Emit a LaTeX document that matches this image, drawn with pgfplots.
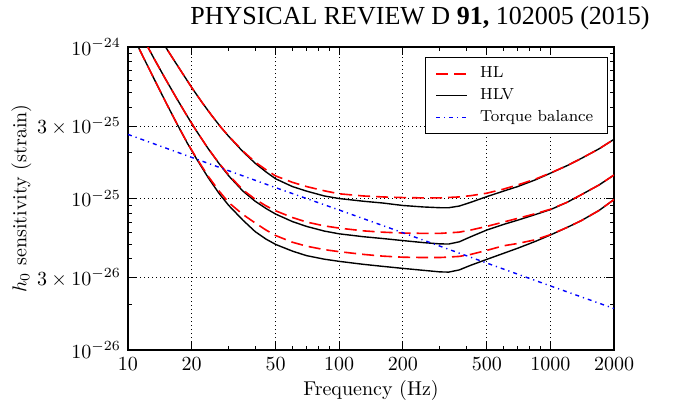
\documentclass[border=0pt]{standalone}
\usepackage{fontspec}
\newfontfamily\headfont{Liberation Serif}
\usepackage{pgfplots}
\pgfplotsset{compat=1.18}
\begin{document}
\begin{tikzpicture}
\begin{axis}[
  at={(0,0)}, anchor=south west,
  xmode=log, ymode=log,
  scale only axis, width=243pt, height=151.5pt,
  xmin=10, xmax=2000, ymin=1e-26, ymax=1e-24,
  xtick={10,20,50,100,200,500,1000,2000},
  xticklabels={10,20,50,100,200,500,1000,2000},
  minor xtick={30,40,60,70,80,90,300,400,600,700,800,900},
  ytick={1e-26,3e-26,1e-25,3e-25,1e-24},
  yticklabels={$10^{-26}$,$3\times10^{-26}$,$10^{-25}$,$3\times10^{-25}$,$10^{-24}$},
  minor ytick={2e-26,4e-26,5e-26,6e-26,7e-26,8e-26,9e-26,2e-25,4e-25,5e-25,6e-25,7e-25,8e-25,9e-25},
  grid=major,
  major grid style={black, line width=0.4pt, dash pattern=on 0.5pt off 1.5pt},
  tick align=inside, major tick length=4pt, minor tick length=2pt,
  every tick/.style={black, line width=0.5pt},
  axis line style={line width=0.8pt},
  xlabel={Frequency (Hz)},
  ylabel={$h_0$ sensitivity (strain)},
  xlabel shift=-2pt,
  ylabel shift=-4pt,
  legend cell align=left,
  legend style={at={(rel axis cs:1,1)}, anchor=north east, xshift=-3pt, yshift=-5pt,
    font=\footnotesize, draw=black, line width=0.7pt, row sep=0pt,
    inner xsep=5pt, inner ysep=2.5pt},
  legend image code/.code={\draw[#1] (0pt,0pt) -- (15.5pt,0pt); \path[draw=none] (15.5pt,0pt) -- (20pt,0pt);},
]
% HLV (black solid)
\addplot[black, line width=0.7pt, forget plot] coordinates {
(14,1.2e-24)(15,1.01e-24)(16.5,8.2e-25)(18,6.8e-25)(20,5.42e-25)(22.5,4.28e-25)(25,3.51e-25)(27.5,2.96e-25)(30,2.57e-25)(35,2.04e-25)(40,1.71e-25)(45,1.5e-25)(50,1.35e-25)(60,1.2e-25)(70,1.12e-25)(85,1.04e-25)(100,1.0e-25)(130,9.6e-26)(160,9.35e-26)(200,9.0e-26)(250,8.8e-26)(300,8.7e-26)(330,8.7e-26)(370,8.92e-26)(420,9.45e-26)(500,1.03e-25)(600,1.12e-25)(700,1.2e-25)(850,1.33e-25)(1000,1.47e-25)(1200,1.65e-25)(1400,1.84e-25)(1700,2.13e-25)(2000,2.46e-25)};
\addplot[black, line width=0.7pt, forget plot] coordinates {
(11,1.36e-24)(12,1.09e-24)(13.5,8.06e-25)(15,6.2e-25)(17,4.58e-25)(19,3.53e-25)(21,2.82e-25)(24,2.13e-25)(27,1.7e-25)(30,1.41e-25)(35,1.12e-25)(40,9.6e-26)(45,8.6e-26)(50,7.9e-26)(60,7.05e-26)(70,6.55e-26)(85,6.1e-26)(100,5.85e-26)(130,5.6e-26)(160,5.45e-26)(200,5.28e-26)(250,5.12e-26)(300,5.02e-26)(330,5.01e-26)(370,5.18e-26)(420,5.6e-26)(500,6.2e-26)(600,6.75e-26)(700,7.2e-26)(850,7.85e-26)(1000,8.45e-26)(1200,9.45e-26)(1400,1.06e-25)(1700,1.23e-25)(2000,1.43e-25)};
\addplot[black, line width=0.7pt, forget plot] coordinates {
(10.4,1.23e-24)(11,1.05e-24)(12,8.2e-25)(13.5,5.9e-25)(15,4.4e-25)(17,3.14e-25)(19,2.35e-25)(21,1.85e-25)(24,1.37e-25)(27,1.08e-25)(30,9.0e-26)(35,7.2e-26)(40,6.05e-26)(45,5.4e-26)(50,4.98e-26)(60,4.5e-26)(70,4.2e-26)(85,3.98e-26)(100,3.85e-26)(130,3.68e-26)(160,3.57e-26)(200,3.46e-26)(250,3.36e-26)(300,3.28e-26)(330,3.27e-26)(370,3.38e-26)(420,3.63e-26)(500,3.97e-26)(600,4.35e-26)(700,4.7e-26)(850,5.22e-26)(1000,5.75e-26)(1200,6.45e-26)(1400,7.15e-26)(1700,8.35e-26)(2000,9.85e-26)};
% HL (red dashed)
\addplot[red, line width=0.8pt, dash pattern=on 6pt off 3pt] coordinates {
(14,1.2e-24)(15,1.01e-24)(16.5,8.2e-25)(18,6.8e-25)(20,5.42e-25)(22.5,4.28e-25)(25,3.51e-25)(27.5,2.96e-25)(30,2.58e-25)(35,2.06e-25)(40,1.74e-25)(45,1.55e-25)(50,1.41e-25)(60,1.28e-25)(70,1.2e-25)(85,1.125e-25)(100,1.075e-25)(130,1.04e-25)(160,1.025e-25)(200,1.015e-25)(250,1.01e-25)(300,1.01e-25)(370,1.025e-25)(420,1.045e-25)(500,1.085e-25)(600,1.155e-25)(700,1.23e-25)(850,1.345e-25)(1000,1.475e-25)(1200,1.65e-25)(1400,1.84e-25)(1700,2.13e-25)(2000,2.46e-25)};
\addlegendentry{HL}
\addplot[red, line width=0.8pt, dash pattern=on 6pt off 3pt, forget plot] coordinates {
(11,1.36e-24)(12,1.09e-24)(13.5,8.06e-25)(15,6.2e-25)(17,4.58e-25)(19,3.53e-25)(21,2.82e-25)(24,2.13e-25)(27,1.71e-25)(30,1.43e-25)(35,1.14e-25)(40,9.9e-26)(45,8.95e-26)(50,8.3e-26)(60,7.5e-26)(70,7.0e-26)(85,6.6e-26)(100,6.38e-26)(130,6.12e-26)(160,6.0e-26)(200,5.92e-26)(250,5.89e-26)(300,5.89e-26)(370,6.0e-26)(420,6.2e-26)(500,6.55e-26)(600,7.0e-26)(700,7.4e-26)(850,7.95e-26)(1000,8.5e-26)(1200,9.45e-26)(1400,1.06e-25)(1700,1.23e-25)(2000,1.43e-25)};
\addplot[red, line width=0.8pt, dash pattern=on 6pt off 3pt, forget plot] coordinates {
(10.4,1.23e-24)(11,1.05e-24)(12,8.2e-25)(13.5,5.9e-25)(15,4.4e-25)(17,3.14e-25)(19,2.36e-25)(21,1.87e-25)(24,1.4e-25)(27,1.12e-25)(30,9.4e-26)(35,7.85e-26)(40,6.9e-26)(45,6.2e-26)(50,5.7e-26)(60,5.15e-26)(70,4.85e-26)(85,4.6e-26)(100,4.46e-26)(130,4.28e-26)(160,4.17e-26)(200,4.1e-26)(250,4.08e-26)(300,4.08e-26)(370,4.15e-26)(420,4.28e-26)(500,4.55e-26)(600,4.88e-26)(700,5.05e-26)(850,5.35e-26)(1000,5.78e-26)(1200,6.45e-26)(1400,7.15e-26)(1700,8.35e-26)(2000,9.85e-26)};
\addlegendimage{black, line width=0.7pt}
\addlegendentry{HLV}
% Torque balance (blue dash-dot)
\addplot[blue, line width=0.7pt, dash pattern=on 2pt off 2pt on 0.6pt off 2pt] coordinates {
(10,2.65e-25)(20,1.87e-25)(50,1.18e-25)(100,8.4e-26)(200,5.95e-26)(500,3.75e-26)(1000,2.65e-26)(2000,1.88e-26)};
\addlegendentry{Torque balance}
\end{axis}
\node[anchor=base east, inner sep=0pt, font=\headfont\fontsize{13}{15}\selectfont] at (261pt,162.5pt) {PHYSICAL REVIEW D \textbf{91,} 102005 (2015)};
\pgfresetboundingbox
\path[use as bounding box] (-64pt,-28pt) rectangle (272.5pt,175pt);
\end{tikzpicture}
\end{document}
